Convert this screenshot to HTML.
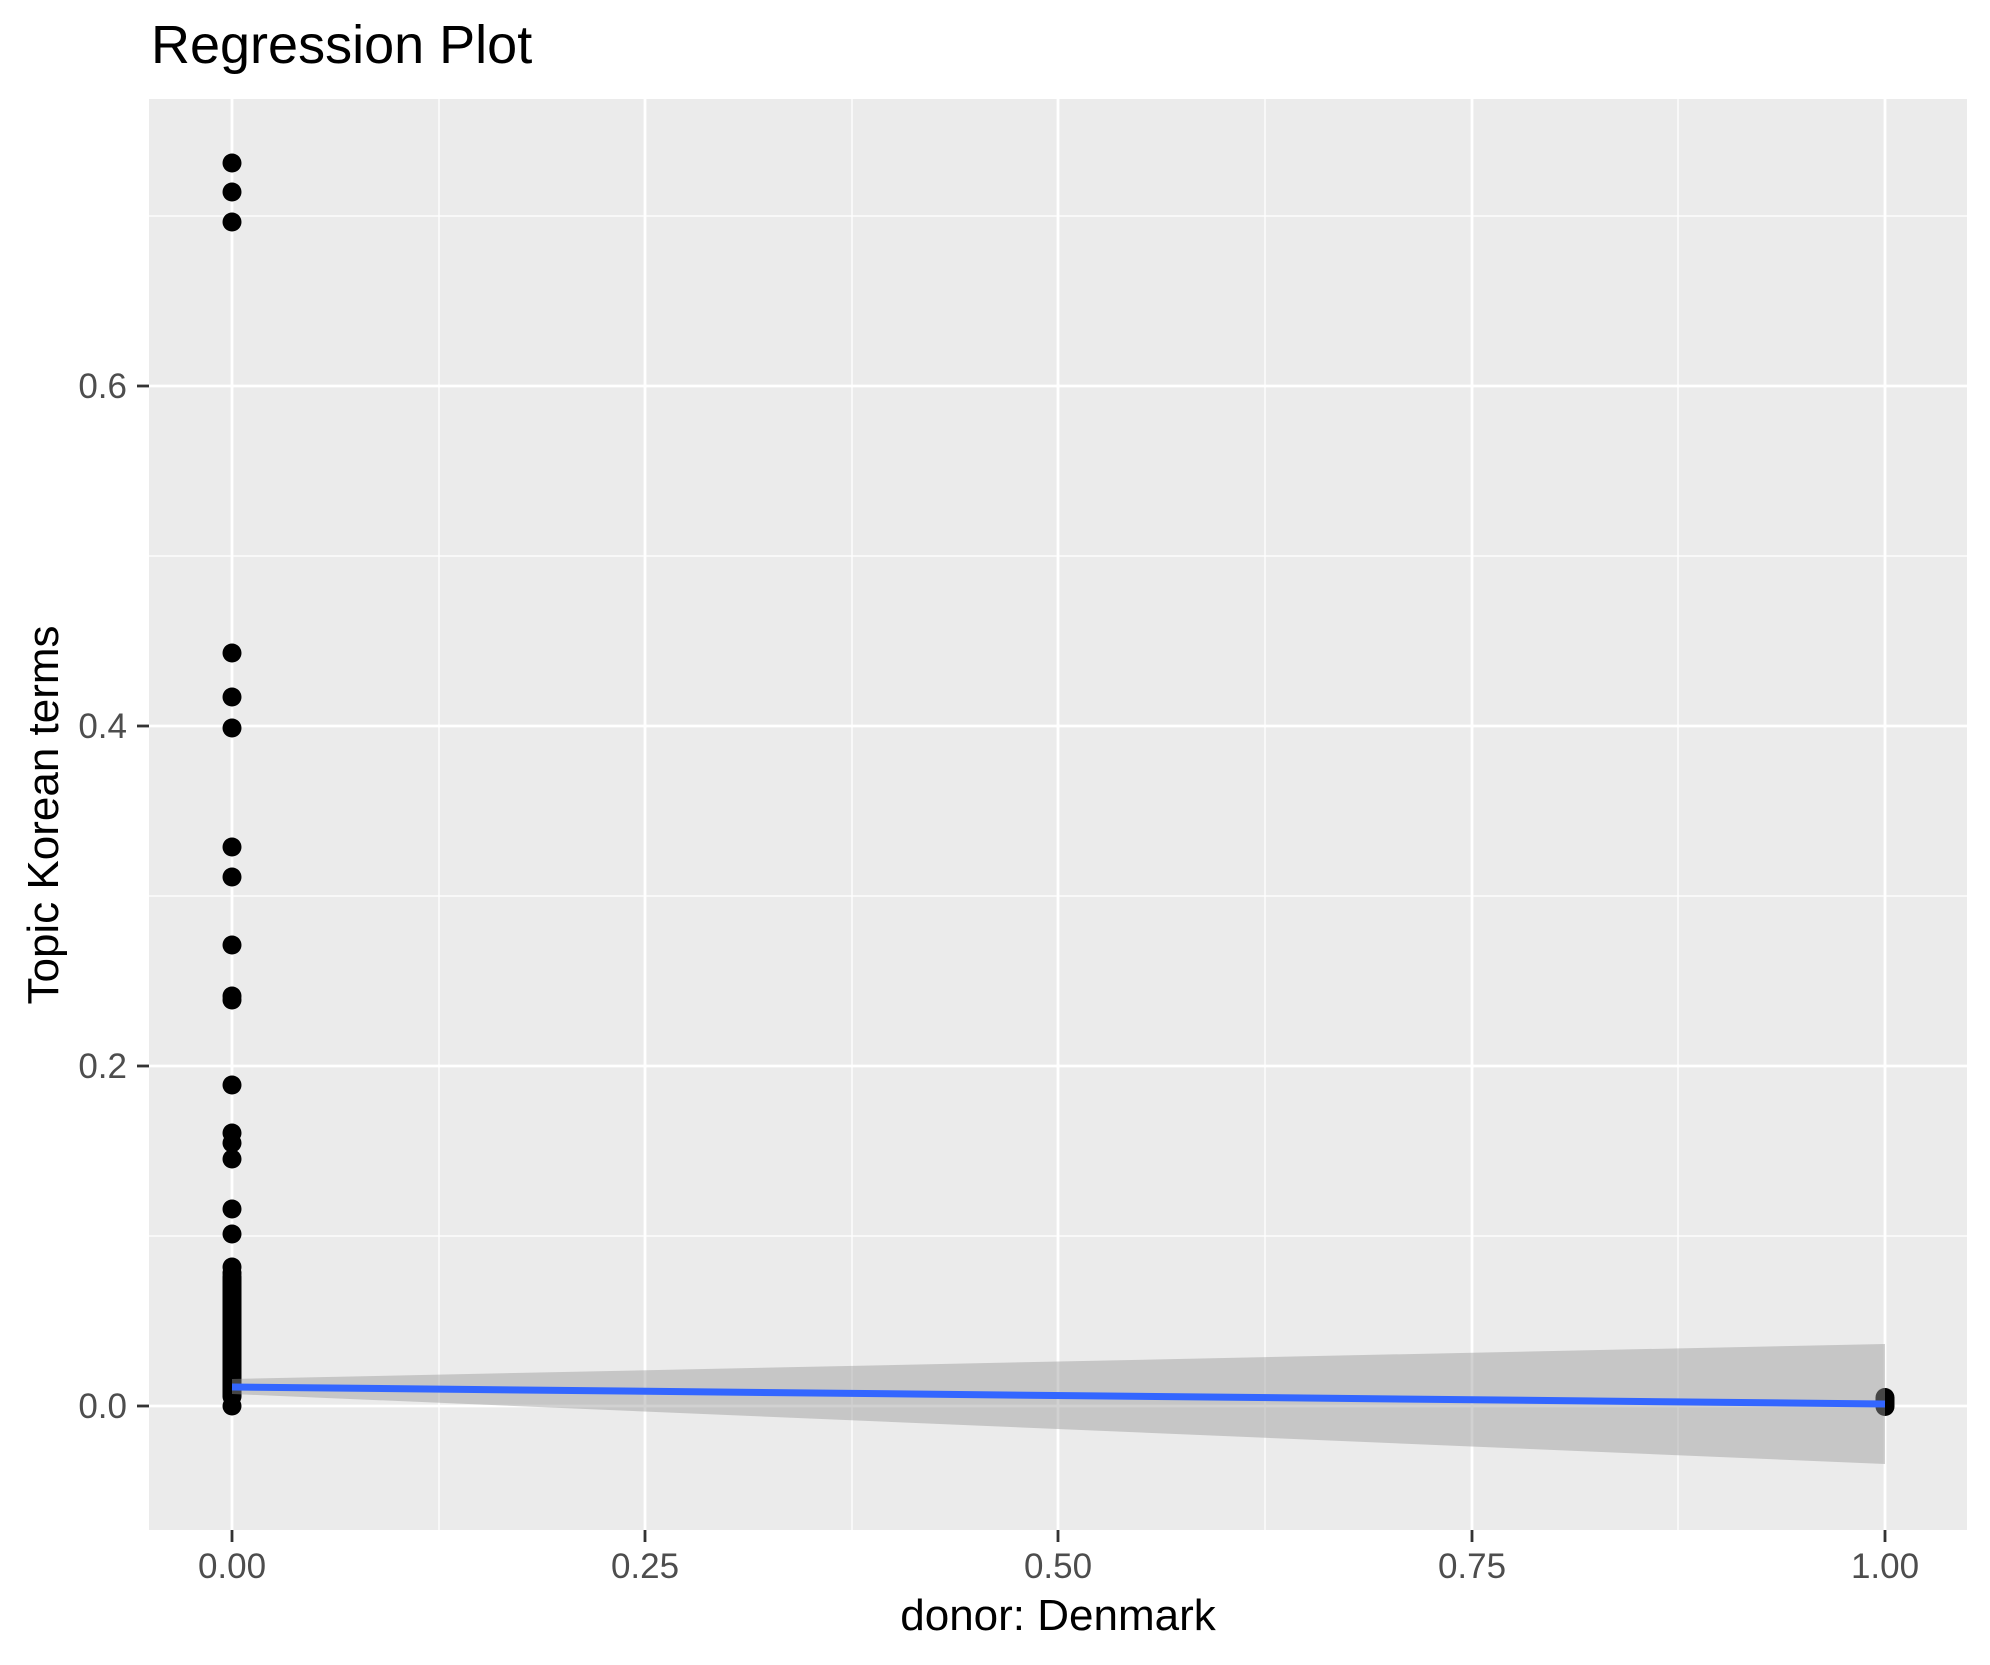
<!DOCTYPE html>
<html><head><meta charset="utf-8"><style>html,body{margin:0;padding:0;background:#fff}svg{display:block}</style></head>
<body>
<svg width="1990" height="1665" viewBox="0 0 1990 1665" xmlns="http://www.w3.org/2000/svg" font-family="Liberation Sans, Arial, sans-serif">
<rect width="1990" height="1665" fill="#fff"/>
<rect x="149" y="99" width="1818" height="1431" fill="#ebebeb"/>
<g stroke="#fff" stroke-width="1.3">
<line x1="149" x2="1967" y1="1236" y2="1236"/>
<line x1="149" x2="1967" y1="896" y2="896"/>
<line x1="149" x2="1967" y1="556" y2="556"/>
<line x1="149" x2="1967" y1="216" y2="216"/>
<line y1="99" y2="1530" x1="439" x2="439"/>
<line y1="99" y2="1530" x1="852" x2="852"/>
<line y1="99" y2="1530" x1="1265" x2="1265"/>
<line y1="99" y2="1530" x1="1678" x2="1678"/>
</g>
<g stroke="#fff" stroke-width="2.8">
<line x1="149" x2="1967" y1="1406" y2="1406"/>
<line x1="149" x2="1967" y1="1066" y2="1066"/>
<line x1="149" x2="1967" y1="726" y2="726"/>
<line x1="149" x2="1967" y1="386" y2="386"/>
<line y1="99" y2="1530" x1="232" x2="232"/>
<line y1="99" y2="1530" x1="645" x2="645"/>
<line y1="99" y2="1530" x1="1058" x2="1058"/>
<line y1="99" y2="1530" x1="1472" x2="1472"/>
<line y1="99" y2="1530" x1="1885" x2="1885"/>
</g>
<g fill="#000">
<circle cx="232" cy="163" r="9.5"/><circle cx="232" cy="192" r="9.5"/><circle cx="232" cy="222" r="9.5"/>
<circle cx="232" cy="653" r="9.5"/><circle cx="232" cy="697" r="9.5"/><circle cx="232" cy="728" r="9.5"/>
<circle cx="232" cy="847" r="9.5"/><circle cx="232" cy="877" r="9.5"/><circle cx="232" cy="945" r="9.5"/>
<circle cx="232" cy="996" r="9.5"/><circle cx="232" cy="1000" r="9.5"/><circle cx="232" cy="1085" r="9.5"/>
<circle cx="232" cy="1133" r="9.5"/><circle cx="232" cy="1143" r="9.5"/><circle cx="232" cy="1159" r="9.5"/>
<circle cx="232" cy="1209" r="9.5"/><circle cx="232" cy="1234" r="9.5"/>
<circle cx="232" cy="1267" r="9.5"/><circle cx="232" cy="1273" r="9.5"/><circle cx="232" cy="1285" r="9.5"/>
<circle cx="232" cy="1295" r="9.5"/><circle cx="232" cy="1310" r="9.5"/><circle cx="232" cy="1322" r="9.5"/>
<circle cx="232" cy="1335" r="9.5"/><circle cx="232" cy="1348" r="9.5"/><circle cx="232" cy="1360" r="9.5"/>
<rect x="222.5" y="1267" width="19" height="139" rx="9.5"/>
<circle cx="232" cy="1406" r="9.5"/>
<rect x="1875.5" y="1388" width="19" height="28" rx="9.5"/>
</g>
<polygon points="232,1379 1885,1344 1885,1464 232,1394" fill="#999" fill-opacity="0.45"/>
<line x1="232" y1="1387" x2="1885" y2="1404" stroke="#3366ff" stroke-width="7"/>
<g stroke="#333" stroke-width="2.8">
<line x1="137" x2="149" y1="1406" y2="1406"/><line x1="137" x2="149" y1="1066" y2="1066"/>
<line x1="137" x2="149" y1="726" y2="726"/><line x1="137" x2="149" y1="386" y2="386"/>
<line y1="1530" y2="1542" x1="232" x2="232"/><line y1="1530" y2="1542" x1="645" x2="645"/>
<line y1="1530" y2="1542" x1="1058" x2="1058"/><line y1="1530" y2="1542" x1="1472" x2="1472"/>
<line y1="1530" y2="1542" x1="1885" x2="1885"/>
</g>
<g fill="#4d4d4d" font-size="35" text-anchor="end">
<text x="127" y="1418">0.0</text><text x="127" y="1078">0.2</text>
<text x="127" y="738">0.4</text><text x="127" y="398">0.6</text>
</g>
<g fill="#4d4d4d" font-size="35" text-anchor="middle">
<text x="232" y="1578">0.00</text><text x="645" y="1578">0.25</text>
<text x="1058" y="1578">0.50</text><text x="1472" y="1578">0.75</text>
<text x="1885" y="1578">1.00</text>
</g>
<text x="1058" y="1630" font-size="44" text-anchor="middle" fill="#000">donor: Denmark</text>
<text transform="translate(58,815) rotate(-90)" font-size="44" text-anchor="middle" fill="#000">Topic Korean terms</text>
<text x="151" y="63" font-size="54" fill="#000">Regression Plot</text>
</svg>
</body></html>
